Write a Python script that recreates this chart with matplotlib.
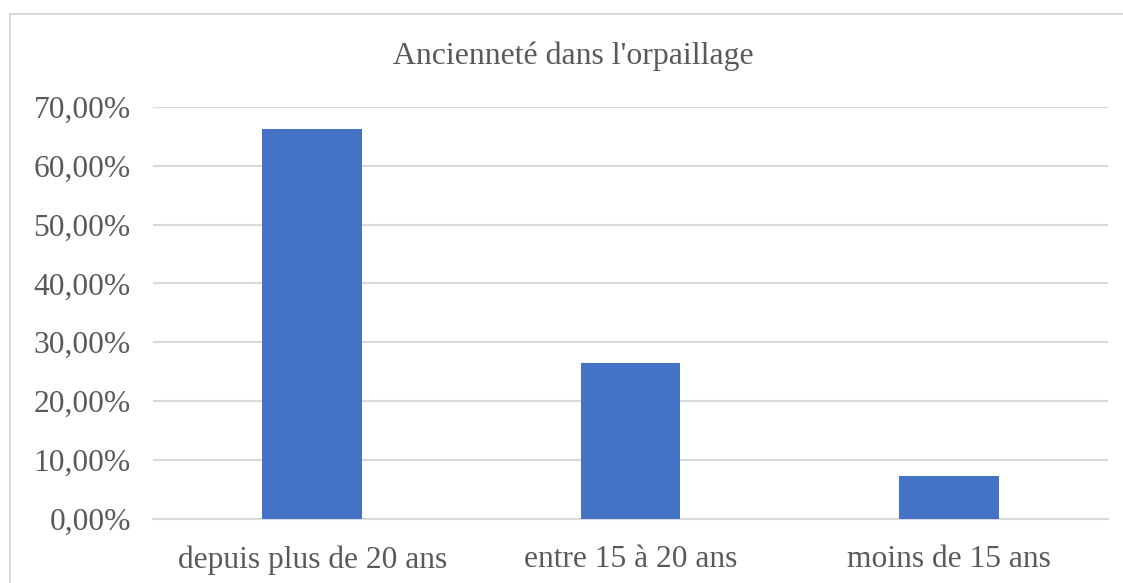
import matplotlib
matplotlib.use("Agg")
import matplotlib.pyplot as plt
from matplotlib.patches import Rectangle
from matplotlib.ticker import FuncFormatter

categories = ["depuis plus de 20 ans", "entre 15 à 20 ans", "moins de 15 ans"]
values = [66.18, 26.47, 7.35]
yticks = [0, 10, 20, 30, 40, 50, 60, 70]
title = "Ancienneté dans l'orpaillage"

W, H = 1123, 583
fig = plt.figure(figsize=(W / 100, H / 100), dpi=100)
plt.rcParams['font.family'] = ['Liberation Serif', 'DejaVu Serif']
txt = '#595959'

ax = fig.add_axes([153 / W, 1 - 519 / H, (1108 - 153) / W, (519 - 106.7) / H])
x = range(len(categories))
ax.bar(x, values, width=0.314, color='#4472c4', zorder=3)
ax.set_xlim(-0.5, len(categories) - 0.5)
ax.set_ylim(0, 70)
ax.set_yticks(yticks)
ax.yaxis.set_major_formatter(FuncFormatter(lambda v, p: f"{v:.2f}%".replace('.', ',')))
ax.set_xticks(list(x))
ax.set_xticklabels(categories)
ax.grid(axis='y', color='#d9d9d9', linewidth=1.5, zorder=0)
for s in ['top', 'right', 'left']:
    ax.spines[s].set_visible(False)
ax.spines['bottom'].set_color('#d9d9d9')
ax.spines['bottom'].set_linewidth(1.5)
ax.tick_params(axis='both', length=0, labelsize=22.7, colors=txt)
ax.tick_params(axis='y', pad=16)
ax.tick_params(axis='x', pad=19)

fig.text(573 / W, 1 - 56 / H, title, ha='center', va='center', fontsize=22.9, color=txt)

fig.patches.append(Rectangle((9.5 / W, -0.1), 1.2, 1 - 14.5 / H + 0.1, transform=fig.transFigure,
                             fill=False, edgecolor='#d9d9d9', linewidth=1.5, figure=fig))

fig.savefig('out.png', dpi=100)
